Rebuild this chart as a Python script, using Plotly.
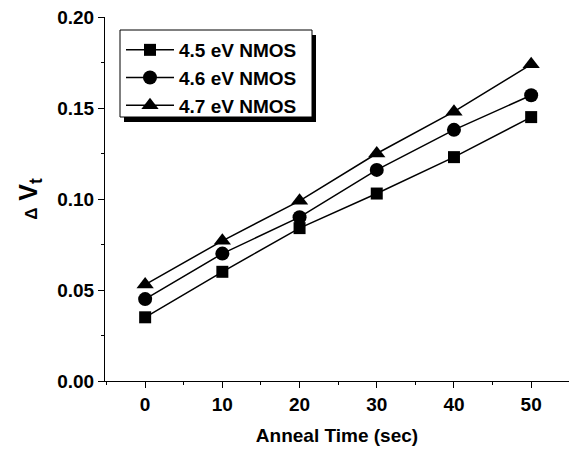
import plotly.graph_objects as go

anneal_time = [0, 10, 20, 30, 40, 50]
dv_45 = [0.035, 0.060, 0.084, 0.103, 0.123, 0.145]
dv_46 = [0.045, 0.070, 0.090, 0.116, 0.138, 0.157]
dv_47 = [0.053, 0.077, 0.099, 0.125, 0.148, 0.174]
series_names = ["4.5 eV NMOS", "4.6 eV NMOS", "4.7 eV NMOS"]
x_ticks = [0, 10, 20, 30, 40, 50]
y_ticks = [0.00, 0.05, 0.10, 0.15, 0.20]

FONT = "Liberation Sans, Arial, sans-serif"

fig = go.Figure()
for ys, name, sym, sz in zip([dv_45, dv_46, dv_47], series_names,
                             ["square", "circle", "triangle-up"], [12, 14, 15]):
    fig.add_trace(go.Scatter(
        x=anneal_time, y=ys, name=name, mode="lines+markers",
        line=dict(color="black", width=1.5),
        marker=dict(symbol=sym, size=sz, color="black"),
    ))

W, H = 569, 452
L, R, T, B = 105, 0, 17, 71
pw, ph = W - L - R, H - T - B

def px(x): return (x - L) / pw
def py(y): return (H - B - y) / ph

# legend box (page pixel coords) with drop shadow
lx0, ly0, lx1, ly1 = 120, 30, 312, 117
fig.add_shape(type="rect", xref="paper", yref="paper",
              x0=px(lx0 + 4), x1=px(lx1 + 4), y0=py(ly1 + 5), y1=py(ly0 + 5),
              fillcolor="black", line=dict(width=0), layer="above")
fig.add_shape(type="rect", xref="paper", yref="paper",
              x0=px(lx0), x1=px(lx1), y0=py(ly1), y1=py(ly0),
              fillcolor="white", line=dict(color="black", width=1), layer="above")

fig.update_layout(
    width=W, height=H,
    margin=dict(l=L, r=R, t=T, b=B),
    paper_bgcolor="white", plot_bgcolor="white",
    font=dict(family=FONT, color="black", size=18),
    showlegend=True,
    legend=dict(x=px(lx0 + 1), y=py(ly0 + 1), xanchor="left", yanchor="top",
                bgcolor="rgba(0,0,0,0)", borderwidth=0,
                font=dict(family=FONT, size=19, weight="bold"),
                itemwidth=48, tracegroupgap=0),
    xaxis=dict(range=[-5.2, 54.9], tickvals=x_ticks,
               ticks="outside", ticklen=6, tickwidth=1, tickcolor="black",
               showline=True, linecolor="black", linewidth=1,
               showgrid=False, zeroline=False,
               tickfont=dict(family=FONT, size=19, weight="bold"),
               minor=dict(dtick=5, tick0=5, ticks="outside", ticklen=3, tickcolor="black", showgrid=False),
               title=dict(text="Anneal Time (sec)", standoff=14,
                          font=dict(family=FONT, size=19, weight="bold"))),
    yaxis=dict(range=[0, 0.2], tickvals=y_ticks, tickformat=".2f",
               ticks="outside", ticklen=6, tickwidth=1, tickcolor="black",
               showline=True, linecolor="black", linewidth=1,
               showgrid=False, zeroline=False,
               tickfont=dict(family=FONT, size=19, weight="bold"),
               minor=dict(dtick=0.025, tick0=0.025, ticks="outside", ticklen=3, tickcolor="black", showgrid=False),
               title=dict(text="<span style='font-size:17px'>Δ</span> V<sub>t</sub>", standoff=12,
                          font=dict(family=FONT, size=25, weight="bold"))),
)

fig.write_html("out.html", config={"displayModeBar": False},
               post_script="document.body.style.margin='0';document.body.style.padding='0';")
